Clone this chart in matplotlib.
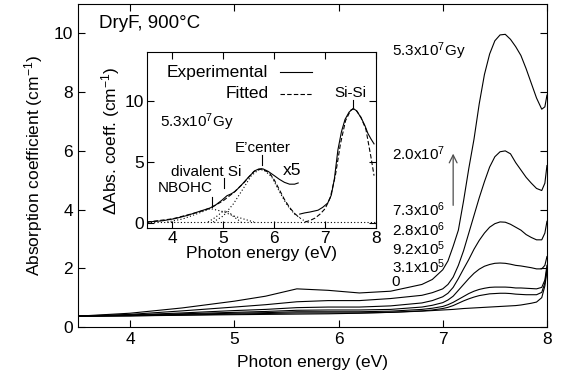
import matplotlib
matplotlib.use("Agg")
import matplotlib.pyplot as plt

plt.rcParams['font.family'] = ['Liberation Sans', 'DejaVu Sans']
plt.rcParams['mathtext.fontset'] = 'custom'
plt.rcParams['mathtext.rm'] = 'Liberation Sans'
plt.rcParams['mathtext.it'] = 'Liberation Sans:italic'
plt.rcParams['mathtext.default'] = 'regular'

# Main panel: absorption spectra, one per dose
energy = [3.5, 4.0, 4.5, 5.0, 5.3, 5.6, 5.9, 6.2, 6.5, 6.8, 6.9, 7.0, 7.05, 7.1, 7.15,
          7.2, 7.25, 7.3, 7.35, 7.4, 7.45, 7.5, 7.55, 7.6, 7.65, 7.7, 7.75, 7.8, 7.85,
          7.9, 7.95, 7.98, 8.0]
dose_labels = ["5.3x10$^7$Gy", "2.0x10$^7$", "7.3x10$^6$", "2.8x10$^6$",
               "9.2x10$^5$", "3.1x10$^5$", "0"]
abs_53e7 = [0.37, 0.47, 0.65, 0.88, 1.05, 1.30, 1.25, 1.16, 1.22, 1.45, 1.62, 1.95, 2.25, 2.75, 3.3,
            4.3, 5.4, 6.4, 7.6, 8.6, 9.3, 9.75, 9.95, 9.97, 9.8, 9.55, 9.25, 8.8, 8.3,
            7.8, 7.42, 7.5, 7.9]
abs_20e7 = [0.37, 0.43, 0.55, 0.68, 0.76, 0.86, 0.90, 0.90, 0.97, 1.08, 1.17, 1.30, 1.45, 1.7, 2.1,
            2.6, 3.2, 3.8, 4.4, 4.95, 5.45, 5.8, 5.97, 6.0, 5.9, 5.6, 5.35, 5.1, 4.9,
            4.72, 4.65, 4.9, 5.5]
abs_73e6 = [0.37, 0.41, 0.48, 0.56, 0.60, 0.66, 0.68, 0.68, 0.72, 0.82, 0.90, 1.03, 1.15, 1.35, 1.65,
            1.98, 2.3, 2.65, 2.95, 3.2, 3.4, 3.52, 3.58, 3.57, 3.5, 3.4, 3.3, 3.15, 3.05,
            2.97, 2.97, 3.2, 3.6]
abs_28e6 = [0.37, 0.40, 0.45, 0.50, 0.53, 0.57, 0.58, 0.58, 0.60, 0.68, 0.74, 0.83, 0.92, 1.05, 1.25,
            1.45, 1.65, 1.83, 1.97, 2.07, 2.13, 2.17, 2.18, 2.17, 2.14, 2.10, 2.08, 2.05, 2.02,
            1.98, 1.98, 2.1, 2.4]
abs_92e5 = [0.37, 0.39, 0.43, 0.47, 0.49, 0.52, 0.52, 0.52, 0.54, 0.60, 0.64, 0.70, 0.76, 0.84, 0.94,
            1.04, 1.14, 1.22, 1.28, 1.32, 1.35, 1.36, 1.36, 1.36, 1.35, 1.33, 1.33, 1.32, 1.31,
            1.30, 1.35, 1.6, 2.1]
abs_31e5 = [0.37, 0.38, 0.41, 0.44, 0.46, 0.48, 0.48, 0.48, 0.50, 0.55, 0.58, 0.63, 0.67, 0.73, 0.81,
            0.89, 0.96, 1.02, 1.07, 1.10, 1.13, 1.14, 1.15, 1.15, 1.14, 1.12, 1.11, 1.10, 1.10,
            1.10, 1.18, 1.5, 2.0]
abs_0 = [0.37, 0.38, 0.40, 0.42, 0.43, 0.44, 0.45, 0.47, 0.50, 0.54, 0.56, 0.58, 0.59, 0.60, 0.615,
         0.63, 0.64, 0.65, 0.66, 0.67, 0.68, 0.69, 0.70, 0.71, 0.72, 0.73, 0.75, 0.78, 0.81,
         0.85, 1.0, 1.4, 1.9]
label_y = [9.4, 5.9, 3.98, 3.33, 2.68, 2.05, 1.53]

# Inset: difference spectrum and fitted components (x5 below 6.5 eV)
exp_lo_e = [3.5, 3.8, 4.05, 4.3, 4.5, 4.74, 4.85, 4.97, 5.07, 5.15, 5.23, 5.35, 5.5, 5.62,
            5.7, 5.78, 5.88, 6.0, 6.1, 6.2, 6.3, 6.4, 6.47]
exp_lo_v = [0.1, 0.2, 0.38, 0.65, 0.93, 1.25, 1.5, 1.88, 2.25, 2.4, 2.6, 3.1, 3.8, 4.3,
            4.45, 4.45, 4.25, 3.9, 3.6, 3.35, 3.2, 3.2, 3.3]
exp_hi_e = [6.5, 6.6, 6.7, 6.86, 6.95, 7.05, 7.12, 7.18, 7.25, 7.32, 7.39, 7.47, 7.55, 7.62,
            7.71, 7.78, 7.84, 7.9, 7.96]
exp_hi_v = [0.75, 0.85, 0.92, 1.07, 1.3, 1.65, 2.3, 3.6, 6.0, 7.5, 8.5, 9.1, 9.4, 9.2,
            8.6, 8.0, 7.35, 6.9, 6.5]
fit_lo_e = [3.5, 4.0, 4.5, 4.75, 5.0, 5.2, 5.4, 5.6, 5.75, 5.9, 6.0, 6.1, 6.2, 6.3, 6.4, 6.5]
fit_lo_v = [0.1, 0.36, 0.9, 1.25, 1.85, 2.5, 3.3, 4.25, 4.45, 4.15, 3.55, 2.75, 1.95, 1.3, 0.8, 0.45]
fit_hi_e = [6.6, 6.7, 6.8, 6.9, 7.0, 7.1, 7.2, 7.3, 7.4, 7.5, 7.55, 7.6, 7.7, 7.8, 7.9, 7.96]
fit_hi_v = [0.1, 0.22, 0.42, 0.75, 1.2, 2.1, 3.9, 6.5, 8.4, 9.25, 9.35, 9.3, 8.7, 7.7, 5.4, 3.9]
nbohc_e = [3.9, 4.2, 4.5, 4.75, 5.0, 5.2, 5.4, 5.6]
nbohc_v = [0.1, 0.35, 0.8, 1.2, 0.95, 0.6, 0.35, 0.1]
divalent_e = [4.7, 4.85, 5.0, 5.1, 5.2, 5.35]
divalent_v = [0.1, 0.5, 1.0, 0.95, 0.55, 0.1]
eprime_e = [4.8, 5.0, 5.2, 5.4, 5.55, 5.7, 5.8, 5.95, 6.1, 6.25, 6.4, 6.55, 6.65]
eprime_v = [0.1, 0.6, 1.6, 2.9, 3.9, 4.4, 4.35, 3.8, 2.6, 1.5, 0.75, 0.3, 0.1]
baseline = 0.1

fig = plt.figure(figsize=(5.63, 3.9), dpi=100)
ax = fig.add_axes([0.1385, 0.1615, 0.833, 0.828])

curves = [abs_53e7, abs_20e7, abs_73e6, abs_28e6, abs_92e5, abs_31e5, abs_0]
for c in curves:
    ax.plot(energy, c, color='black', lw=0.8)
for lab, y in zip(dose_labels, label_y):
    ax.text(6.51, y, lab, fontsize=11, ha='left', va='center')

ax.annotate("", xy=(7.1, 6.0), xytext=(7.1, 4.05),
            arrowprops=dict(arrowstyle='->', color='0.3', lw=0.9, mutation_scale=14))
ax.text(3.70, 10.34, "DryF, 900°C", fontsize=13.5, ha='left', va='center')

ax.set_xlim(3.5, 8)
ax.set_ylim(0, 11)
ax.set_xticks([4, 5, 6, 7, 8])
ax.set_yticks([0, 2, 4, 6, 8, 10])
ax.tick_params(direction='in', top=True, right=True, length=5, labelsize=12.5)
ax.set_xlabel("Photon energy (eV)", fontsize=12.5, labelpad=6)
ax.set_ylabel("Absorption coefficient (cm$^{-1}$)", fontsize=12.5, labelpad=6)

# inset
ins = fig.add_axes([0.261, 0.415, 0.407, 0.451])
ins.set_facecolor('white')
ins.plot(exp_lo_e, exp_lo_v, color='black', lw=0.8)
ins.plot(exp_hi_e, exp_hi_v, color='black', lw=0.8)
ins.plot(fit_lo_e, fit_lo_v, color='black', lw=0.8, ls=(0, (4, 2)))
ins.plot(fit_hi_e, fit_hi_v, color='black', lw=0.8, ls=(0, (4, 2)))
for xe, yv in [(nbohc_e, nbohc_v), (divalent_e, divalent_v), (eprime_e, eprime_v)]:
    ins.plot(xe, yv, color='black', lw=0.8, ls=(0, (1, 2)))
ins.axhline(baseline, color='black', lw=0.8, ls=(0, (1, 2)))

ins.set_xlim(3.5, 8)
ins.set_ylim(-0.4, 14)
ins.set_xticks([4, 5, 6, 7, 8])
ins.set_yticks([0, 5, 10])
ins.tick_params(direction='in', top=True, right=True, length=5, labelsize=12.5, pad=2)
ins.set_xlabel("Photon energy (eV)", fontsize=12.5, labelpad=0)
ins.set_ylabel("$\\Delta$Abs. coeff. (cm$^{-1}$)", fontsize=12.5, labelpad=2)

# legend in gnuplot style
ins.text(0.53, 0.885, "Experimental", transform=ins.transAxes, ha='right', va='center', fontsize=12.5)
ins.plot([0.58, 0.72], [0.885, 0.885], transform=ins.transAxes, color='black', lw=0.8)
ins.text(0.53, 0.765, "Fitted", transform=ins.transAxes, ha='right', va='center', fontsize=12.5)
ins.plot([0.58, 0.72], [0.765, 0.765], transform=ins.transAxes, color='black', lw=0.8, ls=(0, (4, 2)))

ins.text(3.76, 8.3, "5.3x10$^7$Gy", fontsize=11, ha='left', va='center')
ins.text(7.5, 10.65, "Si-Si", fontsize=11, ha='center', va='center')
ins.plot([7.55, 7.55], [10.1, 9.5], color='black', lw=0.8)
ins.text(5.77, 6.15, "E\u2019center", fontsize=11, ha='center', va='center')
ins.plot([5.75, 5.75], [5.55, 4.75], color='black', lw=0.8)
ins.text(4.66, 4.2, "divalent Si", fontsize=11, ha='center', va='center')
ins.plot([5.02, 5.02], [3.7, 2.9], color='black', lw=0.8)
ins.text(4.25, 2.9, "NBOHC", fontsize=11, ha='center', va='center')
ins.plot([4.77, 4.77], [2.15, 1.34], color='black', lw=0.8)
ins.text(6.35, 4.35, "x5", fontsize=12.5, ha='center', va='center')

fig.savefig("out.png", dpi=100)
